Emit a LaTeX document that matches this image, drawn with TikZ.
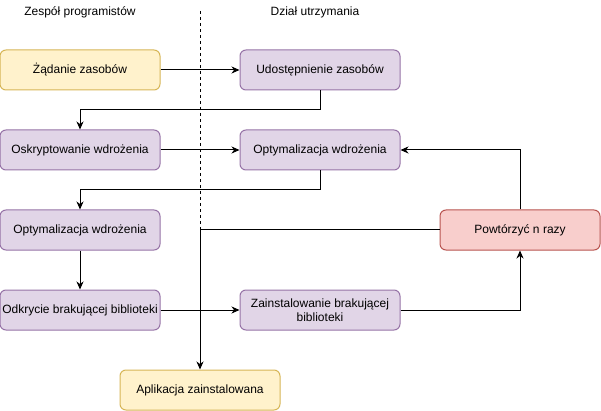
\documentclass[tikz,border=0pt]{standalone}
\usepackage{fontspec}
\setmainfont{Liberation Sans}
\usetikzlibrary{arrows.meta}
\definecolor{yfill}{HTML}{FFF2CC}\definecolor{ydraw}{HTML}{D6B656}
\definecolor{pfill}{HTML}{E1D5E7}\definecolor{pdraw}{HTML}{9673A6}
\definecolor{rfill}{HTML}{F8CECC}\definecolor{rdraw}{HTML}{B85450}
\begin{document}
\begin{tikzpicture}[x=1pt,y=-1pt,
  every node/.style={font=\fontsize{12}{14}\selectfont},
  box/.style={rectangle,rounded corners=6pt,minimum width=160pt,minimum height=40pt,line width=1pt,inner sep=1pt,align=center},
  ybox/.style={box,fill=yfill,draw=ydraw},
  pbox/.style={box,fill=pfill,draw=pdraw},
  rbox/.style={box,fill=rfill,draw=rdraw},
  conn/.style={line width=1pt,-{Stealth[length=8pt,width=7pt,inset=2.5pt]}},
  lbl/.style={inner sep=0pt}]
\useasboundingbox (0,0) rectangle (601,411);
\node[lbl] (t1) at (80,12) {Zespół programistów};
\node[lbl] (t2) at (315,12) {Dział utrzymania};
\coordinate (d1) at (200,11);
\coordinate (d2) at (200,230);
\draw[line width=0.8pt,dash pattern=on 3pt off 3pt] (d1) -- (d2);
\node[ybox] (a) at (80,70) {Żądanie zasobów};
\node[pbox] (b) at (320,70) {Udostępnienie zasobów};
\node[pbox] (c) at (80,150) {Oskryptowanie wdrożenia};
\node[pbox] (d) at (320,150) {Optymalizacja wdrożenia};
\node[pbox] (e) at (80,230) {Optymalizacja wdrożenia};
\node[rbox] (r) at (520,230) {Powtórzyć n razy};
\node[pbox] (f) at (80,310) {Odkrycie brakującej biblioteki};
\node[pbox] (g) at (320,310) {Zainstalowanie brakującej\\biblioteki};
\node[ybox] (h) at (200,390) {Aplikacja zainstalowana};
\draw[conn] (a) -- (b);
\draw[conn] (b.south) -- (320,110) -- (80,110) -- (c.north);
\draw[conn] (c) -- (d);
\draw[conn] (d.south) -- (320,190) -- (80,190) -- (e.north);
\draw[conn] (e) -- (f);
\draw[conn] (f) -- (g);
\draw[conn] (g.east) -- (520,310) -- (r.south);
\draw[conn] (r.north) -- (520,150) -- (d.east);
\draw[conn] (r.west) -- (200,230) -- (h.north);
\end{tikzpicture}
\end{document}
